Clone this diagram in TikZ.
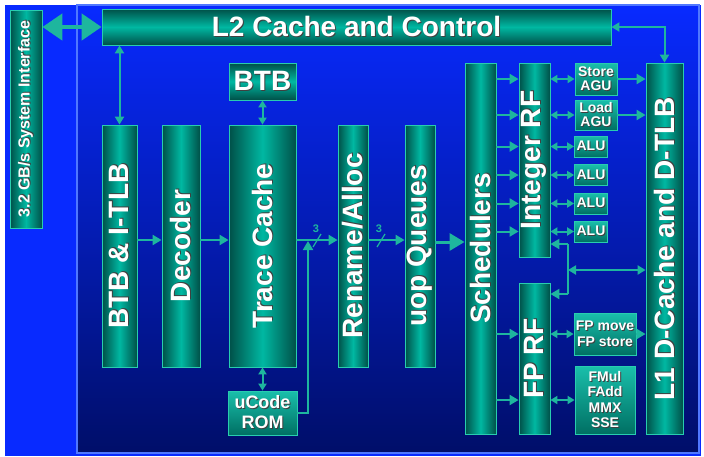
\documentclass[tikz,border=0pt]{standalone}
\usepackage{fontspec}
\setmainfont{Liberation Sans}
\usetikzlibrary{arrows.meta}
\definecolor{tlight}{RGB}{0,184,162}
\definecolor{tdark}{RGB}{0,80,72}
\definecolor{tedge}{RGB}{40,205,175}
\definecolor{arrc}{RGB}{30,182,158}
\definecolor{bgbright}{RGB}{8,42,255}
\definecolor{bgmid}{RGB}{0,28,205}
\definecolor{bgdark}{RGB}{0,14,105}
\definecolor{panelline}{RGB}{80,120,255}
\newcommand\shd[1]{\makebox[0pt][l]{\kern1pt\raisebox{-1pt}{\textcolor{black!75}{#1}}}#1}
\tikzset{
  vbox/.style={draw=tedge, line width=0.8pt, left color=tdark, right color=tdark, middle color=tlight,
     inner sep=0pt, text=white, font=\bfseries\fontsize{28}{28}\selectfont},
  hbox/.style={draw=tedge, line width=0.8pt, top color=tdark, bottom color=tdark, middle color=tlight,
     inner sep=0pt, text=white, font=\bfseries\fontsize{28}{28}\selectfont},
  sbox/.style={draw=tedge, line width=0.8pt, top color=tlight!90!white, bottom color=tdark!70!tlight,
     inner sep=0pt, text=white, align=center, font=\bfseries\fontsize{14}{14}\selectfont},
  arr/.style={draw=arrc, line width=2pt, -{Triangle[length=9pt,width=10pt]}},
  bigarr/.style={draw=arrc, line width=3pt, -{Triangle[length=15pt,width=17pt]}},
  darr/.style={draw=arrc, line width=2pt, {Triangle[length=8pt,width=9pt]}-{Triangle[length=8pt,width=9pt]}},
  sdarr/.style={draw=arrc, line width=2pt, {Triangle[length=7pt,width=8pt]}-{Triangle[length=7pt,width=8pt]}},
  hugearr/.style={draw=arrc, line width=4.5pt, {Triangle[length=20pt,width=26pt]}-{Triangle[length=20pt,width=26pt]}},
  wire/.style={draw=arrc, line width=2pt},
  cnt/.style={text=arrc, font=\bfseries\fontsize{11}{11}\selectfont, inner sep=0pt}
}
\begin{document}
\begin{tikzpicture}[x=1pt,y=-1pt]
\useasboundingbox (0,0) rectangle (704,456);
\fill[white] (0,0) rectangle (704,456);
\fill[bgbright] (5,5) rectangle (701,456);
\shade[top color=bgbright, middle color=bgmid, bottom color=bgdark] (77,5) rectangle (699,453);
\draw[panelline, line width=1.2pt] (77,5) rectangle (699,453);

% nodes
\node[vbox, minimum width=32pt, minimum height=218pt, font=\bfseries\fontsize{16}{16}\selectfont] (sys) at (26,119) {\rotatebox{90}{\shd{3.2 GB/s System Interface}}};
\node[hbox, minimum width=509pt, minimum height=36pt] (l2) at (356.5,27) {\shd{L2 Cache and Control}};
\node[hbox, minimum width=67pt, minimum height=37pt] (btb) at (262.5,81.5) {\shd{BTB}};
\node[vbox, minimum width=35pt, minimum height=242pt] (btbitlb) at (119.5,246) {\rotatebox{90}{\shd{BTB \& I-TLB}}};
\node[vbox, minimum width=38pt, minimum height=242pt] (decoder) at (181,246) {\rotatebox{90}{\shd{Decoder}}};
\node[vbox, minimum width=67pt, minimum height=242pt] (trace) at (262.5,246) {\rotatebox{90}{\shd{Trace Cache}}};
\node[vbox, minimum width=30pt, minimum height=242pt] (rename) at (353,246) {\rotatebox{90}{\shd{Rename/Alloc}}};
\node[vbox, minimum width=30pt, minimum height=242pt] (uopq) at (420,246) {\rotatebox{90}{\shd{uop Queues}}};
\node[sbox, minimum width=69pt, minimum height=44pt, font=\bfseries\fontsize{18}{20}\selectfont] (ucode) at (262.5,413) {\shd{uCode}\\\shd{ROM}};
\node[vbox, minimum width=31pt, minimum height=371pt] (sched) at (480.5,248.5) {\rotatebox{90}{\shd{Schedulers}}};
\node[vbox, minimum width=31pt, minimum height=194pt] (intrf) at (534.5,160) {\rotatebox{90}{\shd{Integer RF}}};
\node[vbox, minimum width=31pt, minimum height=151pt] (fprf) at (534.5,358.5) {\rotatebox{90}{\shd{FP RF}}};
\node[vbox, minimum width=37pt, minimum height=371pt] (l1) at (664.5,248.5) {\rotatebox{90}{\shd{L1 D-Cache and D-TLB}}};
\node[sbox, minimum width=42pt, minimum height=32pt] (storeagu) at (596,79) {\shd{Store}\\\shd{AGU}};
\node[sbox, minimum width=42pt, minimum height=30pt] (loadagu) at (596,115) {\shd{Load}\\\shd{AGU}};
\node[sbox, minimum width=33pt, minimum height=21pt] (alu1) at (591,146.5) {\shd{ALU}};
\node[sbox, minimum width=33pt, minimum height=21pt] (alu2) at (591,175) {\shd{ALU}};
\node[sbox, minimum width=33pt, minimum height=21pt] (alu3) at (591,203.5) {\shd{ALU}};
\node[sbox, minimum width=33pt, minimum height=21pt] (alu4) at (591,231.5) {\shd{ALU}};
\node[sbox, minimum width=62pt, minimum height=42pt, font=\bfseries\fontsize{14}{16.5}\selectfont] (fpmove) at (605,334) {\shd{FP move}\\\shd{FP store}};
\node[sbox, minimum width=60pt, minimum height=68pt, font=\bfseries\fontsize{14}{15.5}\selectfont] (fmul) at (605,400) {\shd{FMul}\\\shd{FAdd}\\\shd{MMX}\\\shd{SSE}};

% coordinates
\coordinate (r240) at (0,240);
\coordinate (r242) at (0,242);
\coordinate (mg) at (308,241);
\coordinate (jt) at (568,244);
\coordinate (jm) at (568,270);
\coordinate (jb) at (568,294);

% connectors
\draw[hugearr] (sys.east |- l2) -- (l2.west);
\draw[darr] (btbitlb.north |- l2.south) -- (btbitlb.north);
\draw[darr] (l2.east) -| (l1.north);
\draw[sdarr] (btb.south) -- (trace.north);
\draw[sdarr] (trace.south) -- (ucode.north);
\draw[arr] (btbitlb.east |- r240) -- (decoder.west |- r240);
\draw[arr] (decoder.east |- r240) -- (trace.west |- r240);
\draw[arr] (trace.east |- r240) -- (rename.west |- r240);
\draw[arr] (rename.east |- r240) -- (uopq.west |- r240);
\draw[bigarr] (uopq.east |- r242) -- (sched.west |- r242);
\draw[arr] (ucode.east) -| (mg);
% width marks
\draw[arrc, line width=1.2pt] (313,247) -- (321,234);
\node[cnt] (w1) at (316,229) {3};
\draw[arrc, line width=1.2pt] (377,247) -- (385,234);
\node[cnt] (w2) at (379,229) {3};

\foreach \n in {storeagu,loadagu,alu1,alu2,alu3,alu4}{
  \draw[arr] (sched.east |- \n) -- (intrf.west |- \n);
  \draw[sdarr] (intrf.east |- \n) -- (\n.west);
}
\draw[arr] (storeagu.east) -- (l1.west |- storeagu);
\draw[arr] (loadagu.east) -- (l1.west |- loadagu);
\foreach \n in {fpmove,fmul}{
  \draw[arr] (sched.east |- \n) -- (fprf.west |- \n);
  \draw[sdarr] (fprf.east |- \n) -- (\n.west);
}
\draw[arr] (fpmove.east) -- (l1.west |- fpmove);
\draw[wire] (jt) -- (jb);
\draw[arr] (jt) -- (intrf.east |- jt);
\draw[arr] (jb) -- (fprf.east |- jb);
\draw[darr] (jm) -- (l1.west |- jm);
\end{tikzpicture}
\end{document}
